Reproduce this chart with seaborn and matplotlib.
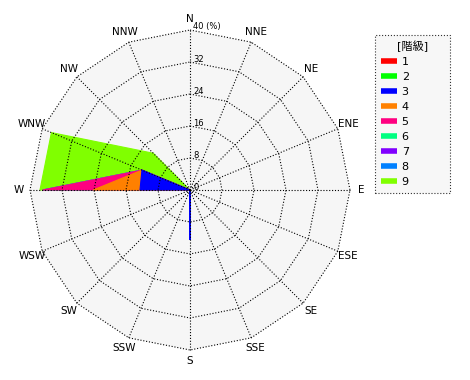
import numpy as np
import seaborn as sns
from matplotlib import pyplot as plt
from matplotlib.lines import Line2D

directions = ["N", "NNE", "NE", "ENE", "E", "ESE", "SE", "SSE",
              "S", "SSW", "SW", "WSW", "W", "WNW", "NW", "NNW"]
classes = ["1", "2", "3", "4", "5", "6", "7", "8", "9"]
class_colors = ["#ff0000", "#00ff00", "#0000ff", "#ff8000", "#ff0080",
                "#00ff80", "#8000ff", "#0080ff", "#80ff00"]

# frequency (%) per direction, one list per class
freq_1 = [0] * 16
freq_2 = [0] * 16
freq_3 = [0, 0, 0, 0, 0, 0, 0, 0, 12.5, 0, 0, 0, 12.5, 13.0, 0, 0]
freq_4 = [0, 0, 0, 0, 0, 0, 0, 0, 0, 0, 0, 0, 11.7, 0, 0, 0]
freq_5 = [0, 0, 0, 0, 0, 0, 0, 0, 0, 0, 0, 0, 12.6, 0, 0, 0]
freq_6 = [0] * 16
freq_7 = [0] * 16
freq_8 = [0] * 16
freq_9 = [0, 0, 0, 0, 0, 0, 0, 0, 0, 0, 0, 0, 0.7, 24.5, 13.0, 0]

r_ticks = [8, 16, 24, 32, 40]

sns.set_theme(style="white")
plt.rcParams["font.family"] = ["DejaVu Sans", "Noto Sans CJK JP"]
plt.rcParams["text.color"] = "black"

freqs = np.array([freq_1, freq_2, freq_3, freq_4, freq_5,
                  freq_6, freq_7, freq_8, freq_9])
cum = np.cumsum(freqs, axis=0)

fig = plt.figure(figsize=(4.7, 3.8), dpi=100)
ax = fig.add_axes([30 / 470, 30 / 380, 320 / 470, 320 / 380], projection="polar")
ax.set_theta_zero_location("N")
ax.set_theta_direction(-1)
ax.set_facecolor("none")
ax.spines["polar"].set_visible(False)
ax.grid(False)
ax.set_xticks([])
ax.set_yticks([])
ax.set_ylim(0, r_ticks[-1])

theta = np.deg2rad(np.arange(len(directions)) * 360 / len(directions))
theta_c = np.append(theta, theta[0])

# background polygon
ax.fill(theta_c, [r_ticks[-1]] * len(theta_c), color="#f6f6f6", lw=0, zorder=0)

# stacked layers, outermost first
for i in range(len(classes) - 1, -1, -1):
    vals = cum[i]
    if not np.any(freqs[:i + 1] > 0):
        continue
    ax.fill(theta_c, np.append(vals, vals[0]), facecolor=class_colors[i],
            edgecolor=class_colors[i], lw=0.8, zorder=2)

# polygonal grid
dot = (0, (1, 1.6))
for r in r_ticks:
    ax.plot(theta_c, [r] * len(theta_c), color="black", lw=0.8, ls=dot,
            zorder=3, clip_on=False)
for t in theta:
    ax.plot([t, t], [0, r_ticks[-1]], color="black", lw=0.8, ls=dot,
            zorder=3, clip_on=False)

# direction labels
for t, d in zip(theta, directions):
    ax.text(t, 42.8, d, ha="center", va="center", fontsize=7.5, color="black")

# radial tick labels
ax.annotate("0", xy=(0, 0), xytext=(4, 2), textcoords="offset pixels",
            ha="left", va="center", fontsize=6, color="black")
for r in r_ticks:
    lab = f"{r} (%)" if r == r_ticks[-1] else str(r)
    ax.annotate(lab, xy=(0, r), xytext=(3, 3), textcoords="offset pixels",
                ha="left", va="center", fontsize=6, color="black")

handles = [Line2D([], [], color=c, lw=4, solid_capstyle="butt") for c in class_colors]
leg = fig.legend(handles, classes, title="[階級]", loc="upper left",
                 bbox_to_anchor=(375 / 470, 1 - 35 / 380, 75 / 470, 0),
                 mode="expand", fontsize=8, title_fontsize=8, frameon=True,
                 fancybox=False, handlelength=1.5, handletextpad=0.4,
                 labelspacing=0.45, borderpad=0.5, borderaxespad=0)
frame = leg.get_frame()
frame.set_facecolor("#f6f6f6")
frame.set_edgecolor("black")
frame.set_linestyle(":")
frame.set_linewidth(0.8)
for txt in leg.get_texts():
    txt.set_color("black")
leg.get_title().set_color("black")

plt.savefig("out.png", dpi=100)
